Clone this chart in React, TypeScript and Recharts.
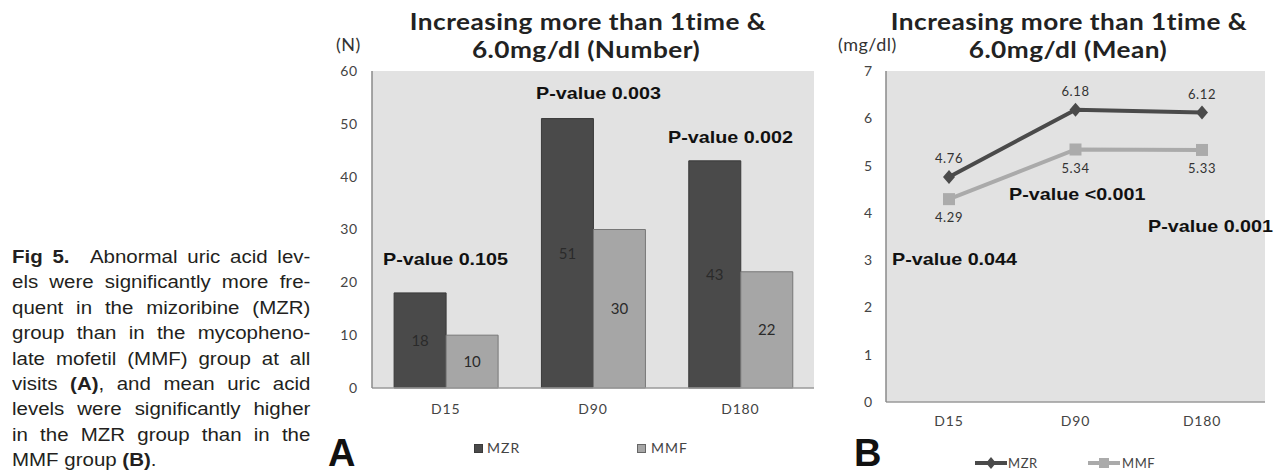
import React from "react";
import {
  BarChart,
  Bar,
  LineChart,
  Line,
  XAxis,
  YAxis,
  CartesianGrid,
  LabelList,
} from "recharts";

const visits = ["D15", "D90", "D180"];
const mzrCount = [18, 51, 43];
const mmfCount = [10, 30, 22];
const mzrMean = [4.76, 6.18, 6.12];
const mmfMean = [4.29, 5.34, 5.33];
const countTicks = [0, 10, 20, 30, 40, 50, 60];
const meanTicks = [0, 1, 2, 3, 4, 5, 6, 7];
const countPValues = ["P-value 0.105", "P-value 0.003", "P-value 0.002"];
const meanPValues = ["P-value 0.044", "P-value <0.001", "P-value 0.001"];

const countData = visits.map((v, i) => ({ visit: v, MZR: mzrCount[i], MMF: mmfCount[i] }));
const meanData = visits.map((v, i) => ({ visit: v, MZR: mzrMean[i], MMF: mmfMean[i] }));

const DARK = "#4a4a4a";
const LIGHT = "#a6a6a6";
const PLOT_BG = "#e2e2e2";
const SANS = "Lato";
const tickStyle = { fontSize: 14, fill: "#444", fontFamily: SANS };

const Diamond = (props: any) => {
  const { cx, cy } = props;
  if (cx == null || cy == null) return <g />;
  return <polygon points={`${cx},${cy - 7} ${cx + 6},${cy} ${cx},${cy + 7} ${cx - 6},${cy}`} fill={DARK} />;
};

const Square = (props: any) => {
  const { cx, cy } = props;
  if (cx == null || cy == null) return <g />;
  return <rect x={cx - 6} y={cy - 6} width={12} height={12} fill="#ababab" />;
};

const abs = (left: number, top: number, extra: React.CSSProperties = {}): React.CSSProperties => ({
  position: "absolute",
  left,
  top,
  ...extra,
});

// centred title line
const Title = ({ cx, top, children }: { cx: number; top: number; children: React.ReactNode }) => (
  <div
    style={{
      position: "absolute",
      left: cx,
      top,
      transform: "translateX(-50%) scaleX(1.14)",
      fontFamily: SANS,
      fontWeight: 700,
      fontSize: 23,
      lineHeight: "28px",
      letterSpacing: 0.4,
      color: "#222",
      whiteSpace: "nowrap",
    }}
  >
    {children}
  </div>
);

const pStyle: React.CSSProperties = {
  fontFamily: "Liberation Sans",
  fontWeight: 700,
  fontSize: 17,
  lineHeight: "22px",
  color: "#111",
  whiteSpace: "nowrap",
  transform: "scaleX(1.16)",
  transformOrigin: "left center",
};

const bigLetter: React.CSSProperties = {
  fontFamily: "Liberation Sans",
  fontWeight: 700,
  fontSize: 38,
  lineHeight: "32px",
  color: "#111",
};

const unitStyle: React.CSSProperties = {
  fontFamily: SANS,
  fontSize: 18,
  lineHeight: "20px",
  color: "#333",
  whiteSpace: "nowrap",
  letterSpacing: 0.5,
};

const legendText: React.CSSProperties = {
  fontFamily: SANS,
  fontSize: 14,
  lineHeight: "16px",
  color: "#444",
  letterSpacing: 1,
};

const captionLines: React.ReactNode[] = [
  <>
    <b style={{ marginRight: 10 }}>Fig 5.</b> Abnormal uric acid lev-
  </>,
  "els were significantly more fre-",
  "quent in the mizoribine (MZR)",
  "group than in the mycopheno-",
  "late mofetil (MMF) group at all",
  <>
    visits <b>(A)</b>, and mean uric acid
  </>,
  "levels were significantly higher",
  "in the MZR group than in the",
  <>
    MMF group <b>(B)</b>.
  </>,
];

const App = () => {
  return (
    <div
      style={{
        position: "absolute",
        left: 0,
        top: 0,
        width: 1281,
        height: 475,
        background: "#fff",
        overflow: "hidden",
      }}
    >
      {/* caption */}
      <div
        style={{
          position: "absolute",
          left: 12,
          top: 245,
          width: 255,
          transform: "scaleX(1.17)",
          transformOrigin: "left top",
          fontFamily: "Liberation Sans",
          fontSize: 17.5,
          lineHeight: "25.4px",
          color: "#231f20",
        }}
      >
        {captionLines.map((line, i) => (
          <div
            key={i}
            style={{
              textAlign: "justify",
              textAlignLast: i === captionLines.length - 1 ? "left" : "justify",
              whiteSpace: "nowrap",
            }}
          >
            {line}
          </div>
        ))}
      </div>

      {/* chart A */}
      <div style={abs(300, 0)}>
        <BarChart
          width={520}
          height={475}
          data={countData}
          margin={{ top: 71, right: 6, bottom: 57, left: 32 }}
          barCategoryGap="15%"
          barGap={0}
        >
          <CartesianGrid fill={PLOT_BG} horizontal={false} vertical={false} />
          <XAxis
            dataKey="visit"
            height={30}
            tick={{ ...tickStyle, letterSpacing: 0.8 }}
            tickLine={false}
            tickSize={0}
            tickMargin={16}
            axisLine={{ stroke: "#9a9a9a", strokeWidth: 1.5 }}
          />
          <YAxis
            width={40}
            domain={[0, 60]}
            ticks={countTicks}
            tick={{ ...tickStyle, letterSpacing: 0.8 }}
            tickLine={false}
            tickSize={0}
            tickMargin={14}
            axisLine={{ stroke: "#8a8a8a", strokeWidth: 1.5 }}
          />
          <Bar dataKey="MZR" fill={DARK} stroke="#3a3a3a" strokeWidth={1} isAnimationActive={false}>
            <LabelList dataKey="MZR" position="center" fill="#2a2a2a" fontSize={15} fontFamily={SANS} />
          </Bar>
          <Bar dataKey="MMF" fill={LIGHT} stroke="#777" strokeWidth={1} isAnimationActive={false}>
            <LabelList dataKey="MMF" position="center" fill="#2a2a2a" fontSize={15} fontFamily={SANS} />
          </Bar>
        </BarChart>
      </div>

      <Title cx={588} top={7}>Increasing more than 1time &amp;</Title>
      <Title cx={586} top={35}>6.0mg/dl (Number)</Title>
      <div style={abs(336, 34, unitStyle)}>(N)</div>
      <div style={abs(383, 249, pStyle)}>{countPValues[0]}</div>
      <div style={abs(536, 83, pStyle)}>{countPValues[1]}</div>
      <div style={abs(668, 127, pStyle)}>{countPValues[2]}</div>
      <div style={abs(328, 437, bigLetter)}>A</div>

      {/* legend A */}
      <div style={abs(474, 444, { width: 9, height: 9, background: DARK, border: "1px solid #3a3a3a", boxSizing: "border-box" })} />
      <div style={abs(487, 440, legendText)}>MZR</div>
      <div style={abs(637, 444, { width: 9, height: 9, background: LIGHT, border: "1px solid #666", boxSizing: "border-box" })} />
      <div style={abs(651, 440, legendText)}>MMF</div>

      {/* chart B */}
      <div style={abs(830, 0)}>
        <LineChart
          width={451}
          height={475}
          data={meanData}
          margin={{ top: 71, right: 16, bottom: 43, left: 26 }}
        >
          <CartesianGrid fill={PLOT_BG} horizontal={false} vertical={false} />
          <XAxis
            dataKey="visit"
            height={30}
            padding={{ left: 63, right: 63 }}
            tick={{ ...tickStyle, letterSpacing: 0.8 }}
            tickLine={false}
            tickSize={0}
            tickMargin={14}
            axisLine={{ stroke: "#9a9a9a", strokeWidth: 1.5 }}
          />
          <YAxis
            width={30}
            domain={[0, 7]}
            ticks={meanTicks}
            tick={tickStyle}
            tickLine={false}
            tickSize={0}
            tickMargin={14}
            axisLine={{ stroke: "#8a8a8a", strokeWidth: 1.5 }}
          />
          <Line
            dataKey="MMF"
            stroke="#aaaaaa"
            strokeWidth={4}
            dot={(p: any) => <Square key={`s${p.index}`} {...p} />}
            isAnimationActive={false}
          >
            <LabelList dataKey="MMF" position="bottom" offset={14} fill="#333" fontSize={13} fontFamily={SANS} letterSpacing={0.6} />
          </Line>
          <Line
            dataKey="MZR"
            stroke={DARK}
            strokeWidth={4}
            dot={(p: any) => <Diamond key={`d${p.index}`} {...p} />}
            isAnimationActive={false}
          >
            <LabelList dataKey="MZR" position="top" offset={14} fill="#333" fontSize={13} fontFamily={SANS} letterSpacing={0.6} />
          </Line>
        </LineChart>
      </div>

      <Title cx={1069} top={7}>Increasing more than 1time &amp;</Title>
      <Title cx={1068} top={35}>6.0mg/dl (Mean)</Title>
      <div style={abs(838, 34, unitStyle)}>(mg/dl)</div>
      <div style={abs(892, 249, pStyle)}>{meanPValues[0]}</div>
      <div style={abs(1009, 184, pStyle)}>{meanPValues[1]}</div>
      <div style={abs(1148, 216, pStyle)}>{meanPValues[2]}</div>
      <div style={abs(854, 437, bigLetter)}>B</div>

      {/* legend B */}
      <svg style={abs(975, 455)} width={34} height={16}>
        <line x1={0} y1={8} x2={32} y2={8} stroke={DARK} strokeWidth={4} />
        <polygon points="16,2 21,8 16,14 11,8" fill={DARK} />
      </svg>
      <div style={abs(1008, 455, { ...legendText, fontSize: 13, letterSpacing: 0.6 })}>MZR</div>
      <svg style={abs(1088, 455)} width={34} height={16}>
        <line x1={0} y1={8} x2={32} y2={8} stroke="#aaaaaa" strokeWidth={4} />
        <rect x={11} y={3} width={10} height={10} fill="#ababab" />
      </svg>
      <div style={abs(1122, 455, { ...legendText, fontSize: 13, letterSpacing: 0.6 })}>MMF</div>
    </div>
  );
};

export default App;
